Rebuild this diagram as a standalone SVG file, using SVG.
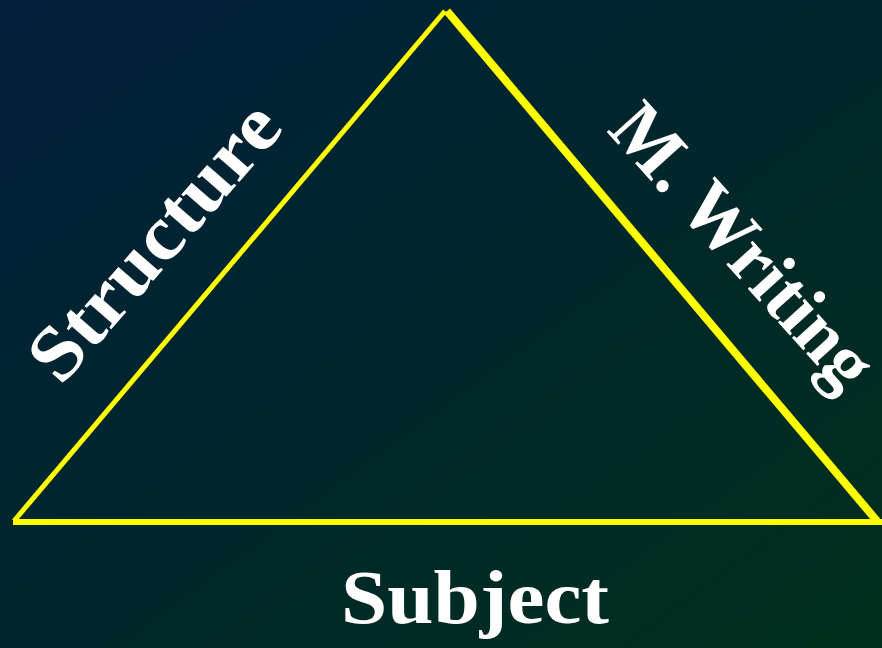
<svg xmlns="http://www.w3.org/2000/svg" width="882" height="648" viewBox="0 0 882 648">
<defs>
<linearGradient id="bg" x1="0" y1="0" x2="1" y2="1">
<stop offset="0" stop-color="#001f3b"/>
<stop offset="1" stop-color="#002f1c"/>
</linearGradient>
<style>
.lbl{font-family:"Liberation Serif","Times New Roman",serif;font-weight:bold;font-size:77px;fill:#ffffff}
.edge{stroke:#ffff00;fill:none;stroke-linecap:butt}
</style>
</defs>
<rect x="0" y="0" width="882" height="648" fill="url(#bg)"/>
<g id="connectors">
<line class="edge" x1="14" y1="521" x2="445" y2="11" stroke-width="5"/>
<line class="edge" x1="447" y1="11" x2="877" y2="521" stroke-width="8"/>
<line class="edge" x1="13" y1="522" x2="882" y2="522" stroke-width="6"/>
</g>
<g id="structure"><text class="lbl" transform="translate(61,387) rotate(-49)" textLength="342" lengthAdjust="spacingAndGlyphs">Structure</text></g>
<g id="writing"><text class="lbl" transform="translate(606,131) rotate(48)" textLength="354" lengthAdjust="spacingAndGlyphs">M. Writing</text></g>
<g id="subject"><text class="lbl" x="341" y="623" textLength="268" lengthAdjust="spacingAndGlyphs">Subject</text></g>
</svg>
